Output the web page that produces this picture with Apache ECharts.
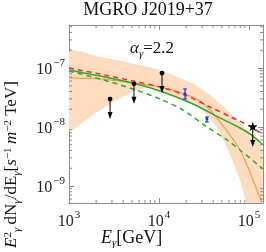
<!DOCTYPE html>
<html><head><meta charset="utf-8">
<script src="https://cdn.jsdelivr.net/npm/echarts@6/dist/echarts.min.js"></script>
<style>html,body{margin:0;padding:0;background:#fff}#c{width:266px;height:252px}</style>
</head><body><div id="c"></div>
<script>
// ---- data (E in GeV, flux in s^-1 m^-2 TeV) ----
const xTickLabels = ['10³','10⁴','10⁵'];
const yTickLabels = ['10⁻⁹','10⁻⁸','10⁻⁷'];
const bandE_up = [1000, 2210, 4760, 10260, 17100, 25120, 36900, 57000, 90400, 143200];
const bandF_up = [1.87e-7, 1.53e-7, 1.22e-7, 9.25e-8, 6.78e-8, 5.15e-8, 3.48e-8, 1.94e-8, 9.62e-9, 4.07e-9];
const bandE_lo = [1000, 1710, 2860, 4760, 6980, 10260, 17100, 28580, 41900, 58500, 79400, 97500, 143200];
const bandF_lo = [8.89e-9, 1.48e-8, 2.45e-8, 3.77e-8, 4.58e-8, 4.07e-8, 3.1e-8, 2.1e-8, 1.08e-8, 4.07e-9, 1.26e-9, 4.76e-10, 3.0e-10];
const orangeE = [1000, 2210, 5140, 10260, 19450, 28580, 36900, 47600, 61500, 79400, 102600, 122700, 143200];
const orangeF = [6.78e-8, 6.52e-8, 5.57e-8, 4.76e-8, 3.62e-8, 2.76e-8, 1.94e-8, 1.22e-8, 7.31e-9, 4.07e-9, 1.73e-9, 8.55e-10, 4.58e-10];
const greenE = [1000, 2210, 5140, 10260, 23880, 50100, 79400, 110700, 143200];
const greenF = [9.25e-8, 7.31e-8, 5.57e-8, 4.07e-8, 2.45e-8, 1.37e-8, 9.62e-9, 7.03e-9, 4.95e-9];
const redE = [1000, 2210, 5140, 10260, 19450, 36900, 73600, 110700, 143200];
const redF = [1e-7, 7.91e-8, 6.03e-8, 4.76e-8, 3.48e-8, 2.18e-8, 1.32e-8, 9.62e-9, 7.31e-9];
const greenDashE = [1000, 2210, 5140, 10260, 18490, 34100, 57000, 79400, 143200];
const greenDashF = [8.89e-8, 6.52e-8, 4.41e-8, 2.99e-8, 1.94e-8, 1e-8, 6.03e-9, 4.07e-9, 1.94e-9];
const ulE = [2860, 5270, 10800];
const ulF = [2.98e-8, 5.4e-8, 8.2e-8];
const starE = [110000];
const starF = [1.0e-8];
const blueE = [19450, 34100];
const blueF = [3.62e-8, 1.37e-8];
const blueLo = [2.99e-8, 1.22e-8];
const blueHi = [4.41e-8, 1.48e-8];

const XMIN = 1000, XMAX = 143000, YMIN = 5.15e-10, YMAX = 5.36e-7;
const FONT = 'Liberation Serif';
const FRAME = '#8c8c8c';

const zip = (a, b) => a.map((v, i) => [v, b[i]]);

function supLabel(v, labels, exps) {
  const e = Math.round(Math.log10(v));
  if (Math.abs(Math.log10(v) - e) > 1e-6) return '';
  const i = exps.indexOf(e);
  if (i < 0) return '';
  const s = e < 0 ? '−' + (-e) : '' + e;
  return '{a|10}{b|' + s + '}';
}
const richTick = {
  a: {fontFamily: FONT, fontSize: 16, color: '#222', verticalAlign: 'bottom', lineHeight: 20},
  b: {fontFamily: FONT, fontSize: 11, color: '#222', verticalAlign: 'top', lineHeight: 20, padding: [0, 0, 0, 1]}
};
const T = (size, italic, va) => ({fontFamily: FONT, fontStyle: italic ? 'italic' : 'normal', fontSize: size, fill: '#111', verticalAlign: va, lineHeight: 20});

// minor tick positions (2..9 x 10^n)
const xMinor = [], yMinor = [];
for (let d = 3; d <= 5; d++) for (let k = 2; k <= 9; k++) { const v = k * Math.pow(10, d); if (v < XMAX) xMinor.push(v); }
for (let d = -10; d <= -7; d++) for (let k = 2; k <= 9; k++) { const v = k * Math.pow(10, d); if (v > YMIN && v < YMAX) yMinor.push(v); }

const chart = echarts.init(document.getElementById('c'), null, {renderer: 'canvas'});
const axisCommon = {
  type: 'log', logBase: 10,
  axisLine: {show: true, lineStyle: {color: FRAME, width: 1}},
  axisTick: {show: true, inside: true, length: 5, lineStyle: {color: FRAME}},
  splitLine: {show: false}, minorTick: {show: false}
};
chart.setOption({
  animation: false,
  grid: {left: 69, right: 3, top: 25, bottom: 49},
  xAxis: [
    Object.assign({}, axisCommon, {min: XMIN, max: XMAX, position: 'bottom',
      axisLabel: {margin: 7, formatter: v => supLabel(v, xTickLabels, [3, 4, 5]), rich: richTick}}),
    Object.assign({}, axisCommon, {min: XMIN, max: XMAX, position: 'top', axisLabel: {show: false}})
  ],
  yAxis: [
    Object.assign({}, axisCommon, {min: YMIN, max: YMAX, position: 'left',
      axisLabel: {margin: 4, formatter: v => supLabel(v, yTickLabels, [-9, -8, -7]), rich: richTick}}),
    Object.assign({}, axisCommon, {min: YMIN, max: YMAX, position: 'right', axisLabel: {show: false}})
  ],
  graphic: [
    {type: 'text', x: 148, y: 1, style: {text: 'MGRO J2019+37', font: '18px "Liberation Serif"', fill: '#111', textAlign: 'center'}},
    {type: 'text', x: 130, y: 40, style: {
      text: '{a|α}{s|γ}{n|=2.2}',
      rich: {a: T(17, true, 'top'), s: T(11, true, 'bottom'), n: T(17, false, 'top')}}},
    {type: 'text', x: 101, y: 229, style: {
      text: '{i|E}{s|γ}{n|[GeV]}',
      rich: {i: T(18, true, 'top'), s: T(11, true, 'bottom'), n: T(18, false, 'top')}}},
    {type: 'text', x: 3, y: 248, rotation: Math.PI / 2, style: {
      text: '{i|E}{sp|2}{sb|γ} {n|dN}{sb|γ}{n|/dE}{sb|γ}{n|[}{i|s}{sp|−1} {i|m}{sp|−2}{n| TeV]}',
      rich: {i: T(17, true, 'top'), n: T(17, false, 'top'), sp: T(11, false, 'top'), sb: T(11, true, 'bottom')}}}
  ],
  series: [
    {type: 'custom', name: 'band', clip: true, z: 1, data: [[XMIN, YMIN]],
      renderItem: (params, api) => {
        const pts = [];
        for (let i = 0; i < bandE_up.length; i++) pts.push(api.coord([bandE_up[i], bandF_up[i]]));
        for (let i = bandE_lo.length - 1; i >= 0; i--) pts.push(api.coord([bandE_lo[i], bandF_lo[i]]));
        return {type: 'polygon', shape: {points: pts, smooth: 0.25}, style: {fill: '#fddcc0'}};
      }},
    {type: 'line', data: zip(orangeE, orangeF), smooth: 0.3, showSymbol: false, clip: true, z: 3,
      lineStyle: {color: '#f5a055', width: 1.3}},
    {type: 'line', data: zip(greenDashE, greenDashF), smooth: 0.3, showSymbol: false, clip: true, z: 4,
      lineStyle: {color: '#2ea82e', width: 1.5, type: [5, 4]}},
    {type: 'line', data: zip(greenE, greenF), smooth: 0.3, showSymbol: false, clip: true, z: 4,
      lineStyle: {color: '#2ea82e', width: 1.5}},
    {type: 'line', data: zip(redE, redF), smooth: 0.3, showSymbol: false, clip: true, z: 5,
      lineStyle: {color: '#ee2c2c', width: 1.5, type: [5, 4]}},
    {type: 'custom', z: 6, data: zip(blueE, blueF).map((p, i) => [p[0], p[1], blueLo[i], blueHi[i]]),
      renderItem: (params, api) => {
        const c = api.coord([api.value(0), api.value(1)]);
        const lo = api.coord([api.value(0), api.value(2)]);
        const hi = api.coord([api.value(0), api.value(3)]);
        const st = {stroke: '#1f2ee6', lineWidth: 1.2};
        return {type: 'group', children: [
          {type: 'line', shape: {x1: c[0], y1: lo[1], x2: c[0], y2: hi[1]}, style: st},
          {type: 'line', shape: {x1: c[0] - 1.8, y1: lo[1], x2: c[0] + 1.8, y2: lo[1]}, style: st},
          {type: 'line', shape: {x1: c[0] - 1.8, y1: hi[1], x2: c[0] + 1.8, y2: hi[1]}, style: st},
          {type: 'rect', shape: {x: c[0] - 1.3, y: c[1] - 1.3, width: 2.6, height: 2.6}, style: {fill: '#1f2ee6'}}
        ]};
      }},
    {type: 'custom', z: 7, data: zip(ulE, ulF),
      renderItem: (params, api) => {
        const c = api.coord([api.value(0), api.value(1)]);
        return {type: 'group', children: [
          {type: 'line', shape: {x1: c[0], y1: c[1], x2: c[0], y2: c[1] + 14}, style: {stroke: '#000', lineWidth: 1}},
          {type: 'polygon', shape: {points: [[c[0] - 2.5, c[1] + 13], [c[0] + 2.5, c[1] + 13], [c[0], c[1] + 20]]}, style: {fill: '#000'}},
          {type: 'circle', shape: {cx: c[0], cy: c[1], r: 2.4}, style: {fill: '#000'}}
        ]};
      }},
    {type: 'custom', z: 7, data: zip(starE, starF),
      renderItem: (params, api) => {
        const c = api.coord([api.value(0), api.value(1)]);
        const pts = [];
        for (let k = 0; k < 10; k++) {
          const r = k % 2 === 0 ? 5 : 2.1;
          const a = -Math.PI / 2 + k * Math.PI / 5;
          pts.push([c[0] + r * Math.cos(a), c[1] + r * Math.sin(a)]);
        }
        return {type: 'group', children: [
          {type: 'line', shape: {x1: c[0], y1: c[1], x2: c[0], y2: c[1] + 14}, style: {stroke: '#000', lineWidth: 1}},
          {type: 'polygon', shape: {points: [[c[0] - 2.5, c[1] + 13], [c[0] + 2.5, c[1] + 13], [c[0], c[1] + 20]]}, style: {fill: '#000'}},
          {type: 'polygon', shape: {points: pts}, style: {fill: '#000'}}
        ]};
      }},
    {type: 'custom', z: 8, clip: false, data: xMinor.map(v => [v, YMIN]),
      renderItem: (params, api) => {
        const cs = params.coordSys;
        const x = api.coord([api.value(0), YMIN])[0];
        const st = {stroke: FRAME, lineWidth: 1};
        return {type: 'group', children: [
          {type: 'line', shape: {x1: x, y1: cs.y + cs.height, x2: x, y2: cs.y + cs.height - 3}, style: st},
          {type: 'line', shape: {x1: x, y1: cs.y, x2: x, y2: cs.y + 3}, style: st}
        ]};
      }},
    {type: 'custom', z: 8, clip: false, data: yMinor.map(v => [XMIN, v]),
      renderItem: (params, api) => {
        const cs = params.coordSys;
        const y = api.coord([XMIN, api.value(1)])[1];
        const st = {stroke: FRAME, lineWidth: 1};
        return {type: 'group', children: [
          {type: 'line', shape: {x1: cs.x, y1: y, x2: cs.x + 3, y2: y}, style: st},
          {type: 'line', shape: {x1: cs.x + cs.width, y1: y, x2: cs.x + cs.width - 3, y2: y}, style: st}
        ]};
      }}
  ]
});
</script></body></html>
